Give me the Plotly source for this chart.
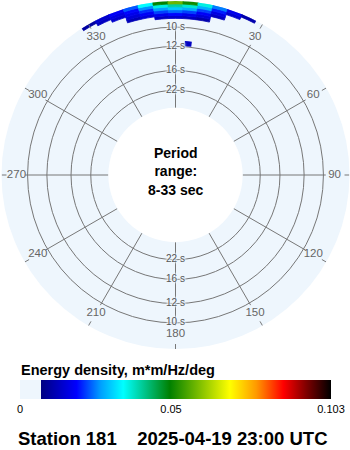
import plotly.graph_objects as go
from plotly.colors import sample_colorscale

# ---------------- data ----------------
dir_centers = [-30, -25, -20, -15, -10, -5, 0, 5, 10, 15, 20, 25]          # deg (0 = north)
freq_low = [0.1075, 0.1100, 0.1125, 0.1150, 0.1175, 0.1200]                 # Hz, bin lower edge
freq_width = 0.0025
dir_width = 5
energy = [
    [0, 0, 0, 0, 0, 0.013, 0.014, 0.013, 0.011, 0, 0, 0],
    [0, 0, 0, 0.012, 0.015, 0.017, 0.019, 0.017, 0.015, 0, 0, 0],
    [0, 0, 0, 0.015, 0.018, 0.022, 0.024, 0.022, 0.018, 0.013, 0, 0],
    [0, 0, 0.014, 0.017, 0.021, 0.027, 0.030, 0.028, 0.022, 0.016, 0, 0],
    [0, 0.013, 0.016, 0.019, 0.026, 0.036, 0.040, 0.037, 0.028, 0.020, 0.014, 0],
    [0.010, 0.014, 0.018, 0.023, 0.034, 0.050, 0.058, 0.051, 0.036, 0.025, 0.017, 0.011],
]
spot_dir = [5.5]
spot_freq_low = [0.0838]
spot_freq_width = [0.0045]
spot_width = [3]
spot_energy = [0.013]

period_ticks = [22, 16, 12, 10]                  # s
period_labels = ["22 s", "16 s", "12 s", "10 s"]
angle_ticks = [30, 60, 90, 120, 150, 180, 210, 240, 270, 300, 330]
angle_labels = [str(a) for a in angle_ticks]
cb_vals = [0, 0.05, 0.103]
cb_text = ["0", "0.05", "0.103"]
emax = 0.103
f_min, f_max = 1 / 33, 0.1225

# ---------------- style ----------------
BG = "#eef6fd"
GRID = "#777777"
LBL = "#666666"
FONT = "Liberation Sans, Arial, sans-serif"
colorscale = [
    [0.0, BG], [0.066, BG], [0.0661, "#000080"], [0.182, "#0000ff"],
    [0.26, "#00a0ff"], [0.332, "#00ffff"], [0.482, "#008000"],
    [0.675, "#ffff00"], [0.76, "#ff9900"], [0.847, "#ff0000"],
    [0.92, "#800000"], [1.0, "#000000"],
]

W, H = 350, 450
cx, cy, R = 175.5, 175.0, 174.0
spoke_end_f = 0.102
label_f = 0.1096
tick_in_f = 0.1182

# flatten grid (non-zero cells only)
th, base, rr, col = [], [], [], []
for i, fl in enumerate(freq_low):
    for j, d in enumerate(dir_centers):
        v = energy[i][j]
        if v > 0:
            th.append(d); base.append(fl); rr.append(freq_width); col.append(v)
line_cols = sample_colorscale(colorscale, [v / emax for v in col])

fig = go.Figure()
fig.add_trace(go.Barpolar(
    theta=th, r=rr, base=base, width=[dir_width] * len(th),
    marker=dict(color=col, colorscale=colorscale, cmin=0, cmax=emax,
                line=dict(width=0.8, color=line_cols),
                showscale=True,
                colorbar=dict(orientation="h", x=cx / W, xanchor="center",
                              y=1 - 380 / H, yanchor="top",
                              len=311, lenmode="pixels", thickness=19, thicknessmode="pixels",
                              outlinewidth=0, xpad=0, ypad=0,
                              tickvals=cb_vals, ticktext=cb_text, ticks="",
                              tickfont=dict(size=11, color="black", family=FONT))),
    hoverinfo="skip"))
fig.add_trace(go.Barpolar(
    theta=spot_dir, r=spot_freq_width, base=spot_freq_low, width=spot_width,
    marker=dict(color=spot_energy, colorscale=colorscale, cmin=0, cmax=emax, showscale=False,
                line=dict(width=0)),
    hoverinfo="skip"))

# spokes
sp_t, sp_r = [], []
for a in [0] + angle_ticks:
    sp_t += [a, a, None]; sp_r += [f_min, spoke_end_f, None]
fig.add_trace(go.Scatterpolar(theta=sp_t, r=sp_r, mode="lines",
                              line=dict(color=GRID, width=1), hoverinfo="skip"))
# outer ticks
tk_t, tk_r = [], []
for a in angle_ticks:
    tk_t += [a, a, None]; tk_r += [tick_in_f, f_max, None]
fig.add_trace(go.Scatterpolar(theta=tk_t, r=tk_r, mode="lines",
                              line=dict(color=GRID, width=1), hoverinfo="skip"))
# angle labels
fig.add_trace(go.Scatterpolar(theta=angle_ticks, r=[label_f] * len(angle_ticks),
                              mode="text", text=angle_labels,
                              textfont=dict(size=11.5, color=LBL, family=FONT),
                              hoverinfo="skip"))
# period ring labels (top and bottom)
shadow = f"0 0 2px {BG}, 0 0 2px {BG}, 0 0 2px {BG}, 0 0 3px {BG}, 0 0 3px {BG}"
for ang in (0, 180):
    fig.add_trace(go.Scatterpolar(theta=[ang] * len(period_ticks),
                                  r=[1 / p for p in period_ticks],
                                  mode="text", text=period_labels,
                                  textfont=dict(size=10, color="#555555", family=FONT, shadow=shadow),
                                  hoverinfo="skip"))

fig.update_layout(
    width=W, height=H, margin=dict(l=0, r=0, t=0, b=0),
    paper_bgcolor="white", showlegend=False,
    polar=dict(
        domain=dict(x=[(cx - R) / W, (cx + R) / W], y=[1 - (cy + R) / H, 1 - (cy - R) / H]),
        bgcolor=BG, hole=0.386,
        radialaxis=dict(range=[f_min, f_max], tickvals=[1 / p for p in period_ticks],
                        showticklabels=False, ticks="", showline=False,
                        gridcolor=GRID, gridwidth=1, layer="below traces"),
        angularaxis=dict(rotation=90, direction="clockwise", showgrid=False,
                         showticklabels=False, ticks="", showline=False,
                         layer="below traces"),
    ),
    annotations=[
        dict(text="Period<br>range:", x=cx / W, y=1 - 162 / H, xref="paper", yref="paper",
             xanchor="center", yanchor="middle", showarrow=False,
             font=dict(size=14, color="black", family=FONT, weight="bold")),
        dict(text="8-33 sec", x=cx / W, y=1 - 190 / H, xref="paper", yref="paper",
             xanchor="center", yanchor="middle", showarrow=False,
             font=dict(size=14, color="black", family=FONT, weight="bold")),
        dict(text="Energy density, m*m/Hz/deg", x=19 / W, y=1 - 370 / H, xref="paper", yref="paper",
             xanchor="left", yanchor="middle", showarrow=False,
             font=dict(size=14.5, color="black", family=FONT, weight="bold")),
        dict(text="Station 181    2025-04-19 23:00 UTC", x=173 / W, y=1 - 438.5 / H,
             xref="paper", yref="paper", xanchor="center", yanchor="middle", showarrow=False,
             font=dict(size=18.5, color="black", family=FONT, weight="bold")),
    ],
)
fig.write_html("out.html")
